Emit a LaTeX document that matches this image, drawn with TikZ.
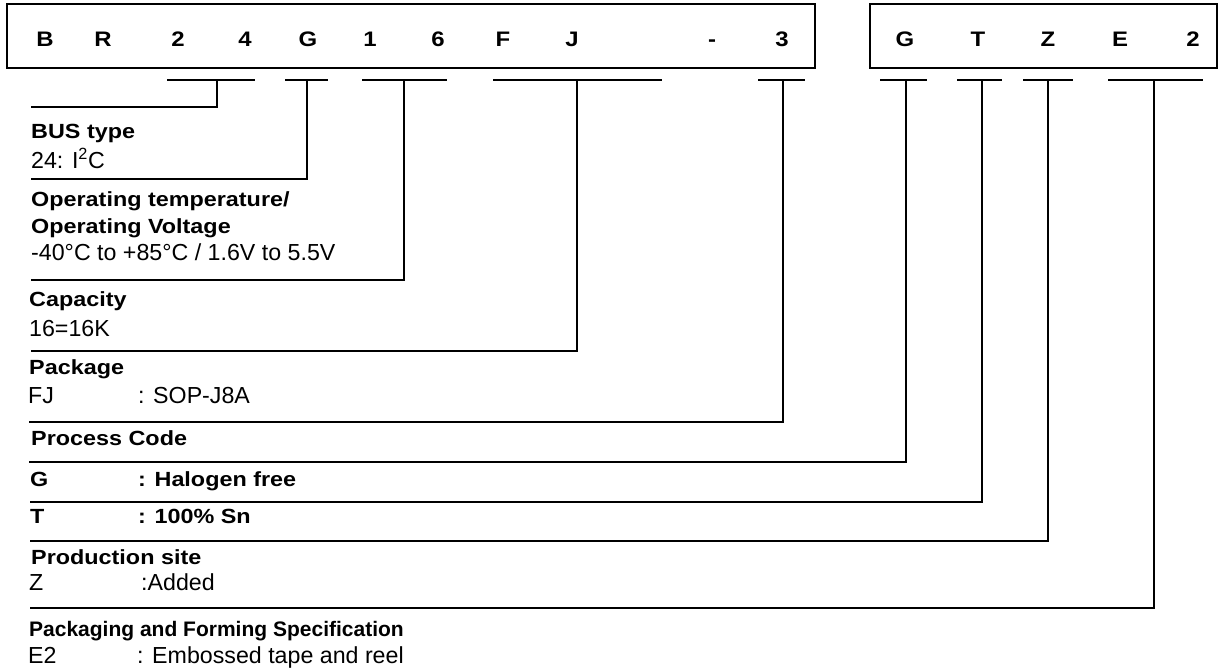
\documentclass[tikz,border=0pt]{standalone}
\usepackage{fontspec}
\setmainfont{Liberation Sans}
\newfontfamily\boldwide{Liberation Sans}[FakeStretch=1.14]
\begin{document}
\begin{tikzpicture}[x=1pt,y=-1pt,
  code/.style={font=\fontsize{21}{24}\selectfont\boldwide\bfseries, anchor=base, inner sep=0pt},
  head/.style={font=\fontsize{20.5}{24}\selectfont\boldwide\bfseries, anchor=base west, inner sep=0pt},
  headplain/.style={font=\fontsize{21}{24}\selectfont\bfseries, anchor=base west, inner sep=0pt},
  body/.style={font=\fontsize{23.2}{26}\selectfont, anchor=base west, inner sep=0pt},
  boxline/.style={line width=2.6pt},
  lead/.style={line width=1.8pt}]
\useasboundingbox (0,0) rectangle (1219,668);
% code boxes
\draw[boxline] (7,4) rectangle (815,68);
\draw[boxline] (870,4) rectangle (1217,68);
% code letters
\node[code] (cB)  at (45,46.5)   {B};
\node[code] (cR)  at (103,46.5)  {R};
\node[code] (c2)  at (178,46.5)  {2};
\node[code] (c4)  at (245,46.5)  {4};
\node[code] (cG)  at (308,46.5)  {G};
\node[code] (c1)  at (370,46.5)  {1};
\node[code] (c6)  at (438,46.5)  {6};
\node[code] (cF)  at (503,46.5)  {F};
\node[code] (cJ)  at (572,46.5)  {J};
\node[code] (cd)  at (712,46.5)  {-};
\node[code] (c3)  at (782,46.5)  {3};
\node[code] (cG2) at (905,46.5)  {G};
\node[code] (cT)  at (978,46.5)  {T};
\node[code] (cZ)  at (1048,46.5) {Z};
\node[code] (cE)  at (1120,46.5) {E};
\node[code] (c22) at (1193,46.5) {2};
% leader lines: bar left, bar right, stem x, bottom y, left end x
\foreach \i/\bl/\br/\sx/\by/\lx in {
  1/167/255/217/107/31,
  2/285/328/307/179/31,
  3/362/447/404/280/31,
  4/493/662/577/351/31,
  5/758/805/783/422/29,
  6/880/927/906/462/29,
  7/957/1002/982/502/30,
  8/1023/1073/1048/541/30,
  9/1108/1203/1154/608/30} {
  \coordinate (bl\i) at (\bl,80);
  \coordinate (br\i) at (\br,80);
  \coordinate (bt\i) at (\sx,80);
  \coordinate (be\i) at (\lx,\by);
  \draw[lead] (bl\i) -- (br\i);
  \draw[lead] (bt\i) |- (be\i);
}
% descriptions
\node[head] (t1)  at (31,138.5) {BUS type};
\node[body] (d1)  at (31,169)   {24: I\textsuperscript{2}C};
\node[head] (t2a) at (31,207)   {Operating temperature/};
\node[head] (t2b) at (31,234)   {Operating Voltage};
\node[body] (d2)  at (31,261)   {-40°C to +85°C / 1.6V to 5.5V};
\node[head] (t3)  at (29,306.5) {Capacity};
\node[body] (d3)  at (29,336.5) {16=16K};
\node[head] (t4)  at (29,375)   {Package};
\node[body] (d4a) at (28,403)   {FJ};
\node[body] (d4b) at (138,403)  {: SOP-J8A};
\node[head] (t5)  at (31,445.5) {Process Code};
\node[head] (d6a) at (30,486.5) {G};
\node[head] (d6b) at (138,486.5){: Halogen free};
\node[head] (d7a) at (30,523)   {T};
\node[head] (d7b) at (138,523)  {: 100\% Sn};
\node[head] (t8)  at (31,564)   {Production site};
\node[body] (d8a) at (29,590.5) {Z};
\node[body] (d8b) at (141,590.5){:Added};
\node[headplain] (t9) at (29,636) {Packaging and Forming Specification};
\node[body] (d9a) at (28,663)   {E2};
\node[body] (d9b) at (137,663)  {: Embossed tape and reel};
\end{tikzpicture}
\end{document}
